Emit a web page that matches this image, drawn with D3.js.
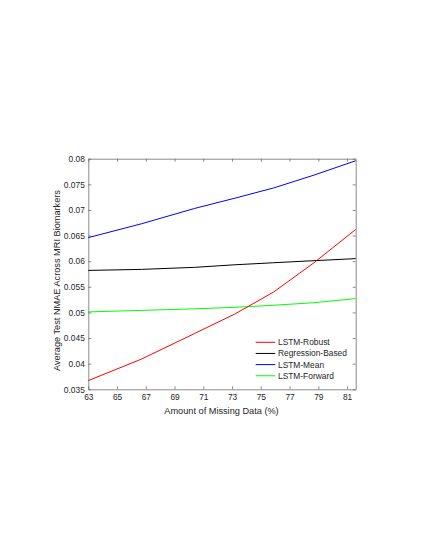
<!DOCTYPE html>
<html>
<head>
<meta charset="utf-8">
<script src="https://cdn.jsdelivr.net/npm/d3@7"></script>
<style>
  body { margin: 0; background: #fff; }
  text { font-family: "Liberation Sans", Arial, Helvetica, sans-serif; fill: #262626; }
</style>
</head>
<body>
<div id="chart"></div>
<script>
// values
var missing = [63.0, 66.7, 70.4, 73.2, 75.9, 78.7, 81.6];
var robust = [0.0367, 0.0409, 0.0459, 0.0497, 0.0540, 0.0597, 0.0662];
var regression = [0.0582, 0.0584, 0.0588, 0.0593, 0.0597, 0.0601, 0.0605];
var meanImp = [0.0646, 0.0673, 0.0703, 0.0723, 0.0743, 0.0768, 0.0796];
var forward = [0.0501, 0.0504, 0.0507, 0.0510, 0.0514, 0.0519, 0.0527];

var seriesNames = ["LSTM-Robust", "Regression-Based", "LSTM-Mean", "LSTM-Forward"];
var seriesColors = ["#ff0000", "#000000", "#0000ff", "#00ff00"];
var seriesValues = [robust, regression, meanImp, forward];

var xTicks = [63, 65, 67, 69, 71, 73, 75, 77, 79, 81];
var yTicks = [0.035, 0.04, 0.045, 0.05, 0.055, 0.06, 0.065, 0.07, 0.075, 0.08];

var W = 432, H = 558;
var margin = {top: 158.7, right: 76.3, bottom: 168.7, left: 88.3},
    width = W - margin.left - margin.right,
    height = H - margin.top - margin.bottom;

var x = d3.scaleLinear().domain([63, 81.6]).range([0, width]);
var y = d3.scaleLinear().domain([0.035, 0.08]).range([height, 0]);

var svg = d3.select("#chart").append("svg")
    .attr("width", W)
    .attr("height", H)
  .append("g")
    .attr("transform", "translate(" + margin.left + "," + margin.top + ")");

var axisColor = "#6e6e6e";
var fmt = d3.format("~g");

function styleAxis(g) {
  g.selectAll("path").attr("stroke", axisColor).attr("stroke-width", 0.8);
  g.selectAll("line").attr("stroke", axisColor).attr("stroke-width", 0.8);
  g.selectAll("text").attr("font-size", "8.4px").attr("fill", "#262626")
    .attr("font-family", "'Liberation Sans', Arial, sans-serif");
}

// bottom + left with labels, ticks pointing inward
svg.append("g")
    .attr("transform", "translate(0," + height + ")")
    .call(d3.axisBottom(x).tickValues(xTicks).tickFormat(fmt)
      .tickSizeInner(-3).tickSizeOuter(0).tickPadding(4.5))
    .call(styleAxis);

svg.append("g")
    .call(d3.axisLeft(y).tickValues(yTicks).tickFormat(fmt)
      .tickSizeInner(-3).tickSizeOuter(0).tickPadding(3.5))
    .call(styleAxis);

// top + right box edges
svg.append("g")
    .call(d3.axisTop(x).tickValues(xTicks).tickFormat("")
      .tickSizeInner(-3).tickSizeOuter(0))
    .call(styleAxis);

svg.append("g")
    .attr("transform", "translate(" + width + ",0)")
    .call(d3.axisRight(y).tickValues(yTicks).tickFormat("")
      .tickSizeInner(-3).tickSizeOuter(0))
    .call(styleAxis);

var line = d3.line()
    .x(function(d) { return x(d.x); })
    .y(function(d) { return y(d.y); });

// draw in reverse so red ends up on top
for (var s = seriesValues.length - 1; s >= 0; s--) {
  var pts = missing.map(function(m, i) { return {x: m, y: seriesValues[s][i]}; });
  svg.append("path")
      .datum(pts)
      .attr("fill", "none")
      .attr("stroke", seriesColors[s])
      .attr("stroke-width", 1)
      .attr("d", line);
}

// axis titles
svg.append("text")
    .attr("x", (164 + 279) / 2 - margin.left)
    .attr("y", 414.5 - margin.top)
    .attr("text-anchor", "middle")
    .attr("font-size", "9.2px")
    .text("Amount of Missing Data (%)");

svg.append("text")
    .attr("transform", "translate(" + (59.8 - margin.left) + "," + (280.5 - margin.top) + ") rotate(-90)")
    .attr("text-anchor", "middle")
    .attr("font-size", "9.2px")
    .text("Average Test NMAE Across MRI Biomarkers");

// legend
var legend = svg.append("g")
    .attr("transform", "translate(" + (255.7 - margin.left) + "," + (342.3 - margin.top) + ")");

seriesNames.forEach(function(name, i) {
  var row = legend.append("g").attr("transform", "translate(0," + (i * 11.15) + ")");
  row.append("line")
      .attr("x1", 0).attr("x2", 19.5)
      .attr("y1", 0).attr("y2", 0)
      .attr("stroke", seriesColors[i])
      .attr("stroke-width", 1);
  row.append("text")
      .attr("x", 22.3)
      .attr("dy", "0.35em")
      .attr("font-size", "8.4px")
      .text(name);
});
</script>
</body>
</html>
